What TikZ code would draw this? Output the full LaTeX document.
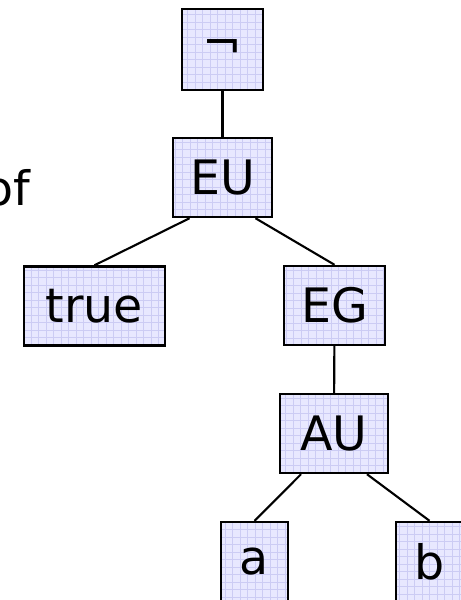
\documentclass[tikz,border=0pt]{standalone}
\usepackage{fontspec}
\setmainfont{DejaVu Sans}
\usepackage{tikz}
\usetikzlibrary{positioning}
\usepackage{xcolor}

\definecolor{boxfill}{HTML}{E8E8FF}
\definecolor{boxgrid}{HTML}{CCCCF4}

\begin{document}
\begin{tikzpicture}[
    treebox/.style={rectangle, draw, line width=1.4pt, fill=boxfill, minimum height=1.58cm, inner sep=0pt,
        font=\fontsize{27}{32}\selectfont,
        path picture={\draw[boxgrid, line width=0.3pt, step=0.15cm]
            (path picture bounding box.south west) grid (path picture bounding box.north east);}},
    edge/.style={line width=1.2pt}
]
    \useasboundingbox (0,0) rectangle (9.22,-12);

    % root and until
    \node[treebox, minimum width=1.62cm, minimum height=1.62cm] (neg) at (4.45, -0.99) {¬};
    \node[treebox, minimum width=1.98cm] (EU) at (4.45, -3.55) {EU};

    % left text, cut off
    \node[anchor=base east, inner sep=0pt, font=\fontsize{27}{32}\selectfont] (of) at (0.62, -4.1) {of};

    % second level
    \node[treebox, minimum width=2.82cm] (true) at (1.89, -6.12) {true};
    \node[treebox, minimum width=2.02cm] (EG) at (6.69, -6.11) {EG};

    \node[treebox, minimum width=2.16cm] (AU) at (6.68, -8.67) {AU};

    % leaves
    \node[treebox, minimum width=1.34cm] (a) at (5.09, -11.23) {a};
    \node[treebox, minimum width=1.34cm] (b) at (8.59, -11.23) {b};

    \draw[edge] (neg) -- (EU);
    \draw[edge] (EU.231) -- (true.north);
    \draw[edge] (EU.309) -- (EG.north);
    \draw[edge] (EG) -- (AU);
    \draw[edge] (AU.231) -- (a.north);
    \draw[edge] (AU.309) -- (b.north);
\end{tikzpicture}
\end{document}
